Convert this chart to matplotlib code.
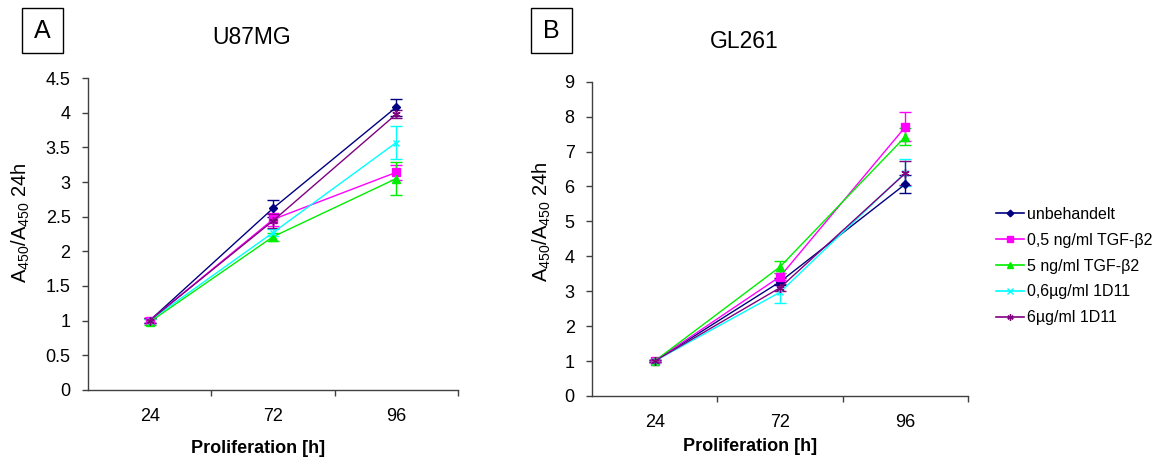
import matplotlib.pyplot as plt
from matplotlib.lines import Line2D
from matplotlib.patches import Rectangle

plt.rcParams['font.family'] = ['Liberation Sans', 'DejaVu Sans']
plt.rcParams['mathtext.fontset'] = 'custom'
plt.rcParams['mathtext.rm'] = 'Liberation Sans'
plt.rcParams['mathtext.it'] = 'Liberation Sans'

# Zeitpunkte
zeit = ['24', '72', '96']
gruppen = ['unbehandelt', '0,5 ng/ml TGF-β2', '5 ng/ml TGF-β2',
           '0,6µg/ml 1D11', '6µg/ml 1D11']

# U87MG  (A450/A450 24h)
u87_mw = [
    [1.00, 2.62, 4.08],
    [1.00, 2.46, 3.14],
    [0.98, 2.21, 3.05],
    [1.00, 2.27, 3.57],
    [1.00, 2.44, 3.98],
]
u87_sd = [
    [0.04, 0.12, 0.12],
    [0.04, 0.09, 0.11],
    [0.04, 0.06, 0.24],
    [0.03, 0.05, 0.24],
    [0.04, 0.10, 0.06],
]

# GL261
gl_mw = [
    [1.00, 3.27, 6.07],
    [1.00, 3.42, 7.71],
    [1.00, 3.70, 7.43],
    [1.00, 2.97, 6.40],
    [1.00, 3.10, 6.38],
]
gl_sd = [
    [0.03, 0.10, 0.25],
    [0.03, 0.10, 0.42],
    [0.03, 0.17, 0.24],
    [0.03, 0.32, 0.38],
    [0.03, 0.10, 0.35],
]

farben = ['#000080', '#ff00ff', '#00ee00', '#00ffff', '#800080']
marker = ['D', 's', '^', 'x', (6, 2, 0)]
msize = [4.5, 5.5, 6, 5, 6]
achse = '#404040'

fig = plt.figure(figsize=(11.62, 4.62), dpi=100)
axA = fig.add_axes([0.0757, 0.156, 0.3184, 0.675])
axB = fig.add_axes([0.5095, 0.143, 0.3236, 0.680])


def zeichne(ax, mw, sd, ymax, ystep):
    x = range(len(zeit))
    for i in range(len(gruppen)):
        ax.errorbar(x, mw[i], yerr=sd[i], color=farben[i], marker=marker[i],
                    markersize=msize[i], lw=1.0, capsize=4, elinewidth=1.0,
                    capthick=1.0, markeredgewidth=1.0)
    ax.set_xlim(-0.5, 2.5)
    ax.set_ylim(0, ymax)
    t = []
    v = 0
    while v <= ymax + 1e-9:
        t.append(v)
        v += ystep
    ax.set_yticks(t)
    ax.set_yticklabels([('%g' % w) for w in t])
    ax.set_xticks([0, 1, 2])
    ax.set_xticklabels(zeit)
    ax.set_xticks([0.5, 1.5, 2.5], minor=True)
    ax.tick_params(axis='x', which='major', length=0, pad=13, labelsize=13)
    ax.tick_params(axis='x', which='minor', length=4.5, width=1, color=achse)
    ax.tick_params(axis='y', length=4.5, width=1, color=achse, pad=8,
                   labelsize=13)
    for s in ['top', 'right']:
        ax.spines[s].set_visible(False)
    for s in ['left', 'bottom']:
        ax.spines[s].set_color(achse)
        ax.spines[s].set_linewidth(1)
    ax.set_xlabel('Proliferation [h]', fontsize=13, fontweight='bold')
    ax.set_ylabel(r'A$_{450}$/A$_{450}$ 24h', fontsize=14.5)


zeichne(axA, u87_mw, u87_sd, 4.5, 0.5)
zeichne(axB, gl_mw, gl_sd, 9, 1)

axA.xaxis.set_label_coords(0.46, -0.16)
axA.yaxis.set_label_coords(-0.15, 0.535)
axB.xaxis.set_label_coords(0.42, -0.135)
axB.yaxis.set_label_coords(-0.105, 0.554)

fig.text(252 / 1162, 1 - 38 / 462, 'U87MG', fontsize=16.5, ha='center', va='center')
fig.text(744 / 1162, 1 - 42 / 462, 'GL261', fontsize=16.5, ha='center', va='center')

# Panel-Buchstaben in Kästen
for bx, buchst in [(22, 'A'), (531, 'B')]:
    fig.add_artist(Rectangle((bx / 1162, 1 - 53 / 462), 41 / 1162, 45 / 462,
                             transform=fig.transFigure, fill=False,
                             ec='black', lw=1))
    fig.text((bx + 20.5) / 1162, 1 - 30.5 / 462, buchst, fontsize=18,
             ha='center', va='center')

handles = [Line2D([], [], color=farben[i], marker=marker[i], lw=1.2,
                  markersize=msize[i] * 0.75, markeredgewidth=1.0)
           for i in range(len(gruppen))]
fig.legend(handles, gruppen, loc='center left',
           bbox_to_anchor=(996 / 1162, 1 - 266 / 462),
           frameon=False, fontsize=11.5, handlelength=1.75, handletextpad=0.2,
           labelspacing=0.68, borderaxespad=0, borderpad=0)

fig.savefig('out.png', dpi=100)
